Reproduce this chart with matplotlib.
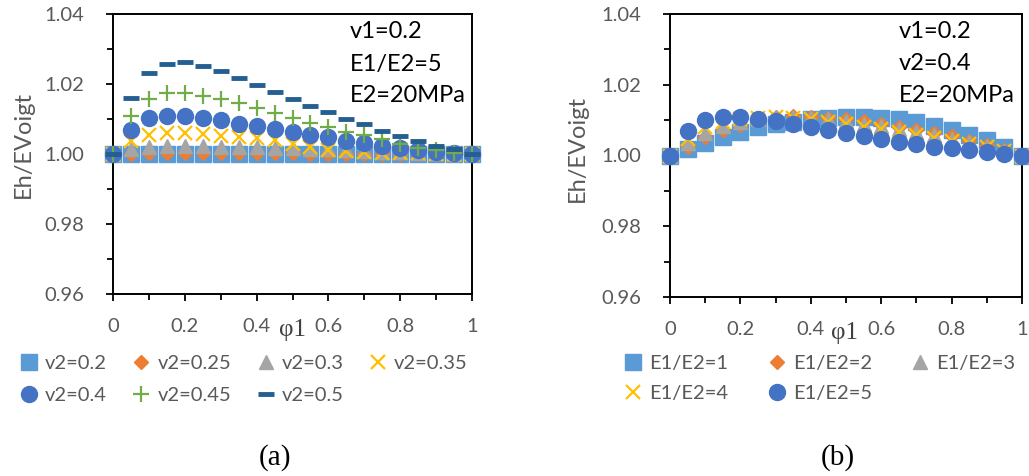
import matplotlib
matplotlib.use("Agg")
import matplotlib.pyplot as plt
from matplotlib.ticker import MultipleLocator, FixedLocator, FixedFormatter

# ---------------- data ----------------
phi1 = [0.0, 0.05, 0.1, 0.15, 0.2, 0.25, 0.3, 0.35, 0.4, 0.45, 0.5,
        0.55, 0.6, 0.65, 0.7, 0.75, 0.8, 0.85, 0.9, 0.95, 1.0]

# panel (a): v1=0.2, E1/E2=5, E2=20MPa, various v2
a_labels = ["v2=0.2", "v2=0.25", "v2=0.3", "v2=0.35", "v2=0.4", "v2=0.45", "v2=0.5"]
a_v2_020 = [1.0] * 21
a_v2_025 = [1.0, 1.0001, 1.0002, 1.0002, 1.0002, 1.0002, 1.0002, 1.0002, 1.0002, 1.0002, 1.0002,
            1.0001, 1.0001, 1.0001, 1.0001, 1.0001, 1.0001, 1.0, 1.0, 1.0, 1.0]
a_v2_030 = [1.0, 1.0015, 1.0020, 1.0022, 1.0022, 1.0022, 1.0021, 1.0020, 1.0019, 1.0018, 1.0017,
            1.0015, 1.0013, 1.0011, 1.0009, 1.0007, 1.0005, 1.0004, 1.0002, 1.0001, 1.0]
a_v2_035 = [1.0, 1.0036, 1.0055, 1.0060, 1.0060, 1.0056, 1.0052, 1.0048, 1.0046, 1.0039, 1.0028,
            1.0019, 1.0012, 1.0008, 1.0005, 1.0004, 1.0003, 1.0002, 1.0001, 1.0001, 1.0]
a_v2_040 = [1.0, 1.0069, 1.0102, 1.0110, 1.0110, 1.0103, 1.0098, 1.0087, 1.0080, 1.0072, 1.0063,
            1.0055, 1.0048, 1.0038, 1.0032, 1.0024, 1.0018, 1.0012, 1.0007, 1.0004, 1.0]
a_v2_045 = [1.0, 1.0110, 1.0158, 1.0174, 1.0174, 1.0167, 1.0158, 1.0145, 1.0132, 1.0117, 1.0103,
            1.0088, 1.0076, 1.0064, 1.0053, 1.0042, 1.0030, 1.0018, 1.0011, 1.0004, 1.0]
a_v2_050 = [1.0, 1.0161, 1.0232, 1.0258, 1.0262, 1.0252, 1.0237, 1.0218, 1.0198, 1.0178, 1.0157,
            1.0138, 1.0119, 1.0100, 1.0085, 1.0067, 1.0052, 1.0038, 1.0023, 1.0014, 1.0]

# panel (b): v1=0.2, v2=0.4, E2=20MPa, various E1/E2
b_labels = ["E1/E2=1", "E1/E2=2", "E1/E2=3", "E1/E2=4", "E1/E2=5"]
b_r1 = [1.0, 1.0017, 1.0035, 1.0053, 1.0067, 1.0080, 1.0089, 1.0096, 1.0103, 1.0107, 1.0110,
        1.0110, 1.0107, 1.0102, 1.0094, 1.0084, 1.0071, 1.0058, 1.0043, 1.0023, 1.0]
b_r2 = [1.0, 1.0025, 1.0053, 1.0073, 1.0087, 1.0100, 1.0108, 1.0111, 1.0110, 1.0106, 1.0103,
        1.0097, 1.0090, 1.0080, 1.0072, 1.0064, 1.0054, 1.0042, 1.0030, 1.0015, 1.0]
b_r3 = [1.0, 1.0035, 1.0065, 1.0082, 1.0095, 1.0104, 1.0109, 1.0110, 1.0107, 1.0102, 1.0097,
        1.0090, 1.0083, 1.0074, 1.0066, 1.0058, 1.0048, 1.0038, 1.0027, 1.0014, 1.0]
b_r4 = [1.0, 1.0048, 1.0080, 1.0095, 1.0103, 1.0107, 1.0108, 1.0106, 1.0102, 1.0096, 1.0089,
        1.0081, 1.0074, 1.0066, 1.0058, 1.0050, 1.0042, 1.0033, 1.0023, 1.0012, 1.0]
b_r5 = [1.0, 1.0069, 1.0100, 1.0110, 1.0110, 1.0103, 1.0097, 1.0089, 1.0081, 1.0072, 1.0065,
        1.0056, 1.0047, 1.0039, 1.0033, 1.0025, 1.0020, 1.0015, 1.0010, 1.0005, 1.0]

x_ticks = [0, 0.2, 0.4, 0.6, 0.8, 1.0]
x_ticklabels = ["0", "0.2", "0.4", "0.6", "0.8", "1"]
y_ticks = [0.96, 0.98, 1.00, 1.02, 1.04]
y_ticklabels = ["0.96", "0.98", "1.00", "1.02", "1.04"]

a_notes = ["v1=0.2", "E1/E2=5", "E2=20MPa"]
b_notes = ["v1=0.2", "v2=0.4", "E2=20MPa"]

# ---------------- style ----------------
plt.rcParams['font.family'] = ['Lato', 'DejaVu Sans']
GRAY = '#595959'

styles = [
    dict(marker='s', color='#5B9BD5', ms=11),
    dict(marker='D', color='#ED7D31', ms=7),
    dict(marker='^', color='#A5A5A5', ms=10),
    dict(marker='x', color='#FFC000', ms=10, mew=1.6),
    dict(marker='o', color='#4472C4', ms=11.5),
    dict(marker='+', color='#70AD47', ms=11, mew=1.6),
    dict(marker='_', color='#255E91', ms=11, mew=3.5),
]

fig = plt.figure(figsize=(10.29, 4.76), dpi=100)
axA = fig.add_axes([113/1029, 1-294/476, (472-113)/1029, (294-14)/476])
axB = fig.add_axes([670/1029, 1-297/476, (1022-670)/1029, (297-14)/476])


def style_axes(ax):
    ax.set_xlim(0, 1)
    ax.set_ylim(0.96, 1.04)
    ax.xaxis.set_major_locator(FixedLocator(x_ticks))
    ax.xaxis.set_major_formatter(FixedFormatter(x_ticklabels))
    ax.xaxis.set_minor_locator(MultipleLocator(0.1))
    ax.yaxis.set_major_locator(FixedLocator(y_ticks))
    ax.yaxis.set_major_formatter(FixedFormatter(y_ticklabels))
    ax.yaxis.set_minor_locator(MultipleLocator(0.01))
    for s in ax.spines.values():
        s.set_linewidth(1.4)
        s.set_color('black')
    ax.tick_params(which='major', direction='out', length=5, width=1.3, color='black',
                   labelcolor=GRAY, labelsize=14.5)
    ax.tick_params(which='minor', direction='out', length=4, width=1.3, color='black')
    ax.tick_params(axis='y', which='major', pad=16)
    ax.tick_params(axis='x', which='major', pad=12)


style_axes(axA)
style_axes(axB)

a_series = [a_v2_020, a_v2_025, a_v2_030, a_v2_035, a_v2_040, a_v2_045, a_v2_050]
hA = []
for ys, lab, st in zip(a_series, a_labels, styles):
    st = dict(st)
    mk = st.pop('marker'); c = st.pop('color'); ms = st.pop('ms'); mew = st.pop('mew', 1.0)
    h, = axA.plot(phi1, ys, linestyle='none', marker=mk, color=c, ms=ms, mew=mew,
                  mec=c, label=lab, clip_on=False, zorder=3)
    hA.append(h)

b_series = [b_r1, b_r2, b_r3, b_r4, b_r5]
hB = []
for ys, lab, st in zip(b_series, b_labels, styles[:5]):
    st = dict(st)
    mk = st.pop('marker'); c = st.pop('color'); ms = st.pop('ms'); mew = st.pop('mew', 1.0)
    h, = axB.plot(phi1, ys, linestyle='none', marker=mk, color=c, ms=ms, mew=mew,
                  mec=c, label=lab, clip_on=False, zorder=3)
    hB.append(h)

# annotations
for i, t in enumerate(a_notes):
    fig.text(350/1029, 1-(32 + 32*i)/476, t, fontsize=17, color='black',
             ha='left', va='center')
for i, t in enumerate(b_notes):
    fig.text(899/1029, 1-(32 + 32*i)/476, t, fontsize=17, color='black',
             ha='left', va='center')

# axis labels
SERIF = ['Liberation Serif', 'DejaVu Serif']
fig.text(293/1029, 1-330/476, "φ1", fontsize=18, color='#404040', ha='center', va='center',
         family=SERIF)
fig.text(845/1029, 1-333/476, "φ1", fontsize=18, color='#404040', ha='center', va='center',
         family=SERIF)
fig.text(23/1029, 1-145/476, "Eh/EVoigt", fontsize=17, color=GRAY, rotation=90,
         ha='center', va='center')
fig.text(577/1029, 1-148/476, "Eh/EVoigt", fontsize=17, color=GRAY, rotation=90,
         ha='center', va='center')

# legends (row-major ordering for matplotlib's column-major fill)
orderA = [0, 4, 1, 5, 2, 6, 3]
orderB = [0, 3, 1, 4, 2]
legA = fig.legend([hA[i] for i in orderA], [a_labels[i] for i in orderA], ncol=4,
                  loc='upper left', bbox_to_anchor=(19/1029, 1-355/476), frameon=False,
                  handlelength=1.0, handletextpad=0.3, columnspacing=1.2,
                  labelspacing=0.75, borderpad=0, borderaxespad=0, fontsize=14.5,
                  labelcolor=GRAY)
legB = fig.legend([hB[i] for i in orderB], [b_labels[i] for i in orderB], ncol=3,
                  loc='upper left', bbox_to_anchor=(623/1029, 1-355/476), frameon=False,
                  handlelength=1.0, handletextpad=0.3, columnspacing=1.9,
                  labelspacing=0.62, borderpad=0, borderaxespad=0, fontsize=14.5,
                  labelcolor=GRAY)

fig.text(275/1029, 1-458/476, "(a)", fontsize=21, color='black', ha='center', va='center',
         family=SERIF)
fig.text(838/1029, 1-458/476, "(b)", fontsize=21, color='black', ha='center', va='center',
         family=SERIF)

fig.savefig("out.png", dpi=100)
